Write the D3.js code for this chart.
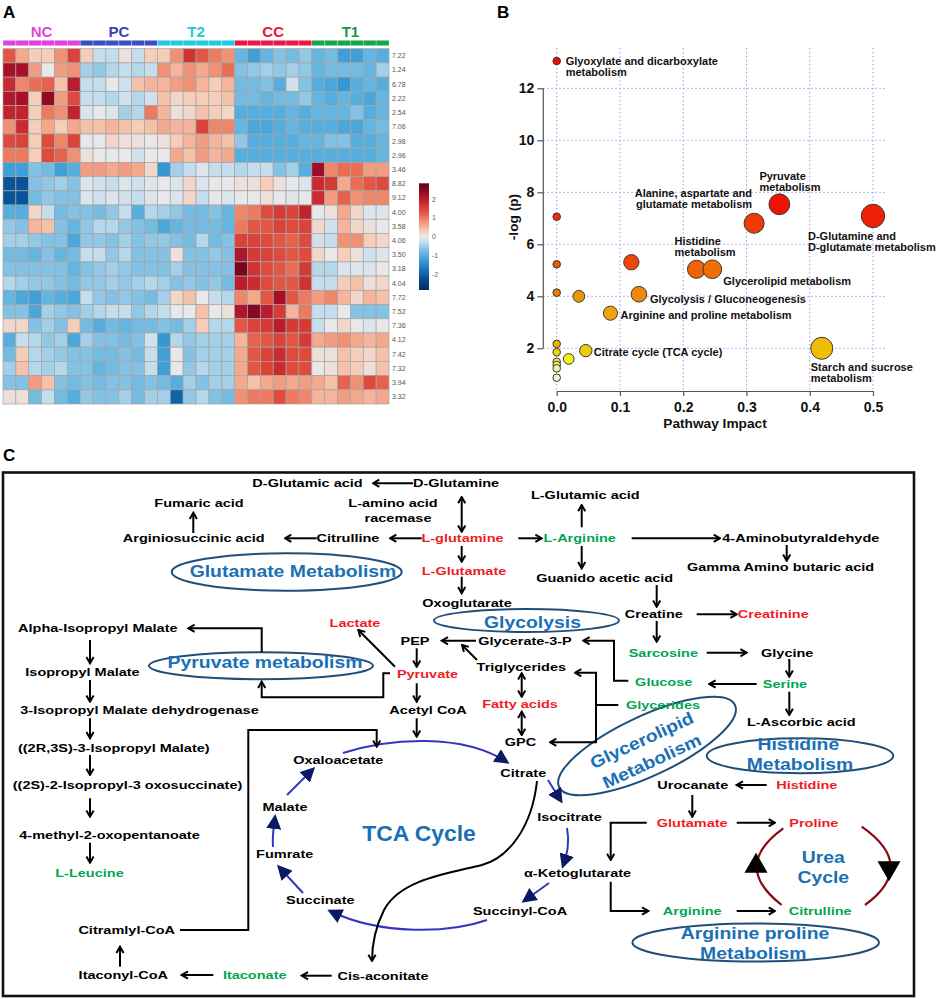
<!DOCTYPE html>
<html>
<head>
<meta charset="utf-8">
<script src="https://cdn.jsdelivr.net/npm/d3@7"></script>
<style>
  body { margin: 0; background: #fff; }
  svg { font-family: "Liberation Sans", Arial, sans-serif; }
</style>
</head>
<body>
<svg id="fig" width="941" height="999"></svg>
<script>
// ---------- panel A data ----------
const groups = ["NC", "PC", "T2", "CC", "T1"];
const samplesPerGroup = 6;
const rowLabels = ["7.22","1.24","6.78","2.22","2.54","7.06","2.98","2.96","3.46","8.82","9.12","4.00","3.58",
                   "4.06","3.50","3.18","4.04","7.72","7.52","7.36","4.12","7.42","7.32","3.94","3.32"];
const colorbarTicks = [2, 1, 0, -1, -2];
// z-scores, one row per bin, columns NC(6) PC(6) T2(6) CC(6) T1(6)
const heatValues = [
  [1.3,0.6,0.3,0.3,0.8,1.5, 0.3,-0.3,-0.3,0.1,-0.3,0.3, 0.3,0.8,1.7,1.3,1.0,0.8, -0.9,-1.2,-0.9,-0.7,-0.8,-0.6, -0.9,-0.8,-1.2,-1.2,-0.9,-1.0],
  [2.2,2.2,0.7,0.0,0.7,0.8, -0.5,-0.6,-0.4,-0.3,-0.4,-0.3, 0.8,0.5,0.8,0.6,0.8,1.1, -0.7,-0.6,-0.5,-0.6,-0.5,-0.6, -0.9,-0.8,-0.8,-0.8,-0.9,-0.5],
  [1.8,0.9,1.1,1.2,0.4,2.0, -0.3,-0.3,0.0,-0.2,0.4,0.5, 0.5,0.7,0.8,0.5,0.3,0.5, -0.8,-0.8,-0.7,-1.0,-0.2,-0.7, -1.0,-1.1,-1.3,-1.0,-0.9,-1.0],
  [2.1,2.2,0.3,2.4,0.7,1.4, -0.3,-0.3,-0.4,-0.2,-0.4,-0.2, 0.4,0.2,0.3,0.3,0.3,0.4, -0.8,-0.8,-0.9,-0.8,-0.8,-0.6, -0.9,-1.0,-0.9,-1.0,-1.1,-0.9],
  [1.9,1.9,0.3,1.0,0.8,1.9, -0.1,0.0,-0.1,-0.5,-0.4,1.0, 0.5,0.1,0.2,0.4,0.3,0.2, -1.0,-1.0,-1.0,-1.0,-0.9,-1.0, -0.9,-0.9,-0.9,-0.7,-1.0,-0.9],
  [0.8,1.8,0.3,0.6,0.3,0.6, 0.4,0.4,0.5,0.4,0.3,0.4, 0.6,0.5,0.5,1.5,0.9,0.9, -0.9,-1.1,-1.1,-1.0,-0.9,-1.0, -1.0,-1.0,-1.1,-1.1,-0.9,-0.8],
  [1.4,1.5,0.3,1.4,0.9,1.5, 0.0,0.0,0.2,0.1,0.1,0.0, 0.1,0.3,0.5,0.7,0.5,0.4, -0.6,-1.0,-1.0,-1.0,-1.0,-0.9, -0.9,-0.7,-0.7,-1.0,-1.0,-0.9],
  [1.0,1.0,0.3,1.4,1.2,0.8, 0.1,0.0,0.0,0.0,-0.2,0.0, 0.0,0.6,0.4,0.7,0.5,0.6, -1.0,-1.0,-1.0,-1.0,-1.0,-1.0, -1.0,-1.0,-1.0,-1.0,-1.0,-0.9],
  [-1.2,-1.2,-0.7,-0.8,-1.2,-1.0, 0.7,0.7,0.6,0.7,0.6,0.2, -1.3,-0.5,-0.3,-0.1,-0.3,-0.3, -0.4,-0.3,-0.3,-0.7,-0.5,-1.0, 2.3,0.9,1.1,1.1,0.7,0.7],
  [-2.2,-2.2,-0.7,-0.6,-0.5,-0.7, -0.1,-0.2,-0.3,-0.1,-0.2,-0.1, 0.0,-0.1,0.2,-0.1,0.0,0.0, 0.1,0.1,0.3,0.1,0.0,-0.1, 1.8,1.6,0.6,1.1,1.3,1.4],
  [-2.2,-2.2,-0.8,-0.6,-0.7,-0.7, -0.1,-0.2,-0.1,-0.2,-0.3,-0.1, 0.0,-0.1,0.2,-0.3,0.0,-0.1, 0.0,0.0,0.1,0.0,-0.1,0.0, 1.8,0.7,1.2,0.8,0.9,0.9],
  [-1.0,-1.0,0.2,-0.3,-0.8,-0.7, -0.7,-0.8,-0.6,-0.3,-1.0,-0.4, -0.5,-0.6,-0.8,-0.8,-0.7,-0.9, 0.9,1.0,1.4,1.6,1.5,1.9, 0.0,0.1,0.6,0.2,-0.1,-0.1],
  [-0.6,-0.7,0.5,0.4,-0.7,-0.9, -0.6,-0.4,-0.4,-0.6,-0.7,-0.8, -1.1,-0.9,-0.8,-0.8,-0.8,-0.9, 1.0,1.3,1.3,1.5,1.4,1.5, 0.2,-0.2,0.5,0.2,0.1,0.0],
  [-0.5,-0.5,-0.6,-0.7,-0.7,-1.1, -0.6,-0.6,-0.7,-0.5,-0.7,-0.6, -0.6,-0.7,-0.8,-0.4,-0.8,-0.7, 1.5,1.5,1.4,1.3,1.2,1.4, -0.2,-0.3,0.8,0.8,0.3,0.2],
  [-0.8,-0.8,-0.9,-0.7,-0.9,-0.8, -0.3,-0.3,-0.6,-0.4,-0.7,-0.7, -0.7,0.1,-0.7,-0.7,-0.6,-0.7, 2.1,1.6,1.5,1.4,1.3,1.4, 0.2,0.0,0.3,0.1,-0.2,-0.1],
  [-0.7,-0.7,-0.7,-0.7,-0.7,-0.9, -0.7,-0.6,-0.5,-0.6,-0.7,-0.7, -0.7,-0.5,-0.7,-0.7,-0.7,-0.7, 2.6,1.7,1.4,1.3,1.1,1.6, -0.4,-0.4,-0.1,-0.1,-0.1,0.0],
  [-0.4,-0.5,-0.6,-0.6,-0.7,-0.8, -0.6,-0.6,-0.5,-0.6,-0.5,-0.4, -0.5,-0.7,-0.6,-0.7,-0.6,-0.8, 2.0,1.8,1.4,1.3,1.3,1.7, -0.3,-0.3,0.3,0.4,0.1,0.2],
  [-0.9,-1.1,-1.2,-0.9,-1.0,-1.1, -0.3,-0.6,-0.7,-0.6,-0.7,-0.8, -0.5,0.2,0.4,0.0,-0.3,-0.4, 0.9,0.6,1.3,2.2,1.3,1.0, 0.7,0.9,0.5,0.2,0.5,0.4],
  [-0.7,-0.7,-1.1,-0.5,-0.6,-0.7, -0.5,-0.4,-0.3,-0.3,-0.6,-0.4, -0.3,0.0,0.0,0.4,0.0,0.1, 2.1,2.5,2.0,1.6,0.5,1.0, -0.3,-0.3,0.0,-0.7,-0.7,-0.7],
  [0.2,0.2,-0.7,-0.5,-0.7,0.3, -0.8,-1.0,-0.8,-0.9,-0.8,-0.8, -0.7,-0.8,-0.5,0.3,-0.4,-0.4, 1.3,1.5,1.6,2.0,1.6,1.6, -0.3,0.0,0.2,0.0,-0.1,0.0],
  [-1.0,-0.3,-0.4,-0.6,-0.5,-1.1, -0.5,-0.7,-0.7,-0.8,-0.7,-0.2, -1.3,-0.4,-0.6,-0.5,-0.5,-0.5, 0.5,1.2,1.3,1.5,1.3,1.6, 0.6,0.7,0.8,0.6,0.5,0.6],
  [-0.8,0.3,-0.4,-0.5,-0.6,-0.7, -0.7,-0.8,-0.8,-0.7,-0.8,-0.3, -1.2,0.0,-0.7,-0.5,-0.5,-0.5, 0.6,1.3,1.5,1.8,1.4,1.4, 0.1,0.1,0.4,0.3,0.2,0.4],
  [-0.5,0.4,-0.4,-0.5,-0.4,-0.7, -0.7,-0.9,-0.8,-0.7,-0.7,-0.3, -1.2,0.0,-0.6,-0.4,-0.5,-0.5, 0.6,1.3,1.5,1.8,1.4,1.4, 0.0,0.1,0.4,0.3,0.1,0.4],
  [-0.7,-0.7,0.7,0.4,-0.7,-0.8, -0.7,-0.8,-0.7,-0.7,-0.8,-0.7, -0.8,-1.0,-0.5,-0.7,-0.5,-0.5, 0.6,0.4,0.6,0.7,0.6,0.7, 0.6,0.4,1.2,0.8,1.4,1.2],
  [0.1,0.1,-0.8,-0.3,-0.8,-1.0, -0.6,-0.7,-0.7,-0.5,-0.8,-0.5, -0.5,-2.0,-0.6,-0.4,-0.7,-0.8, 0.8,1.0,1.0,1.4,1.0,0.9, 0.5,0.5,0.7,0.6,0.5,0.6]
];

// ---------- panel B data ----------
const pathwayNames = [
  "Glyoxylate and dicarboxylate|metabolism", "Pyruvate|metabolism", "D-Glutamine and|D-glutamate metabolism", null,
  "Alanine, aspartate and|glutamate metabolism", "Histidine|metabolism", "Glycerolipid metabolism", null, null, null,
  "Glycolysis / Gluconeogenesis", null, "Arginine and proline metabolism", null, "Starch and sucrose|metabolism",
  "Citrate cycle (TCA cycle)", null, null, null, null, null, null
];
const pathwayImpact = [0, 0.352, 0.5, 0, 0.312, 0.221, 0.246, 0.118, 0, 0, 0.13, 0.035, 0.085, 0, 0.419, 0.046, 0, 0.019, 0, 0, 0, 0];
const pathwayLogP   = [13.05, 7.54, 7.09, 7.06, 6.81, 5.04, 5.04, 5.31, 5.23, 4.14, 4.08, 4.0, 3.35, 2.17, 2.0, 1.91, 1.85, 1.59, 1.48, 1.36, 1.23, 0.87];
const impactTicks = [0, 0.1, 0.2, 0.3, 0.4, 0.5];
const logPTicks = [2, 4, 6, 8, 10, 12];

// ---------- styles ----------
const groupColors = {NC: "#e33fe0", PC: "#3a4fc4", T2: "#1fcbe2", CC: "#ea1744", T1: "#14a64a"};
const groupText   = {NC: "#d946d6", PC: "#4040c0", T2: "#22c8d8", CC: "#ee1236", T1: "#14994a"};
// label offsets (px) from each labelled bubble
const labelOffset = {
  0: [9, 0, "start"], 1: [-20, -28, "start"], 2: [-65, 20, "start"], 4: [-2, -30, "end"],
  5: [-22, -28, "start"], 6: [11, 12, "start"], 10: [11, 4.5, "start"], 12: [10, 2, "start"],
  14: [-11, 18.5, "start"], 15: [8, 1.5, "start"]
};

const svg = d3.select("#fig");
const defs = svg.append("defs");

// ================= PANEL A =================
const A = svg.append("g");
A.append("text").attr("x", 3).attr("y", 17.5).attr("font-size", 17).attr("font-weight", "bold").text("A");

const nCols = groups.length * samplesPerGroup;
const sampleGroup = d3.range(nCols).map(i => groups[Math.floor(i / samplesPerGroup)]);
const hx = d3.scaleBand().domain(d3.range(nCols)).range([3, 389]);
const hy = d3.scaleBand().domain(rowLabels).range([48.7, 404]);

const heatColor = d3.scaleLinear()
  .domain([-2.85, -2.2, -1.8, -1.3, -1.0, -0.6, -0.3, 0, 0.3, 0.6, 1.0, 1.4, 1.8, 2.2, 2.85])
  .range(["#032a5c", "#0a529a", "#1872b8", "#3698d2", "#55aedd", "#92c8e6", "#c4deee", "#e8e8ea",
          "#f6cdb8", "#f4a88c", "#ec7a5e", "#de4b3c", "#ca2a30", "#a8102a", "#5c0016"])
  .clamp(true);

// group annotation bar
A.selectAll("rect.grp").data(d3.range(nCols)).join("rect")
  .attr("x", i => hx(i)).attr("y", 40.3).attr("width", hx.bandwidth()).attr("height", 5.4)
  .attr("fill", i => groupColors[sampleGroup[i]])
  .attr("stroke", "rgba(255,255,255,0.45)").attr("stroke-width", 0.6);
A.selectAll("text.grp").data(groups).join("text")
  .attr("x", (g, k) => hx(k * samplesPerGroup) + hx.bandwidth() * samplesPerGroup / 2)
  .attr("y", 36.7).attr("text-anchor", "middle")
  .attr("font-size", 15).attr("font-weight", "bold")
  .attr("fill", g => groupText[g]).text(g => g);

// cells
const cells = [];
heatValues.forEach((row, r) => row.forEach((v, c) => cells.push({r, c, v})));
A.selectAll("rect.cell").data(cells).join("rect")
  .attr("x", d => hx(d.c)).attr("y", d => hy(rowLabels[d.r]))
  .attr("width", hx.bandwidth()).attr("height", hy.bandwidth())
  .attr("fill", d => heatColor(d.v))
  .attr("stroke", "#a4a4a4").attr("stroke-width", 0.7);

A.selectAll("text.row").data(rowLabels).join("text")
  .attr("x", 392).attr("y", d => hy(d) + hy.bandwidth() / 2).attr("dy", "0.35em")
  .attr("font-size", 7).attr("fill", "#555").text(d => d);

// colour key
const cbScale = d3.scaleLinear().domain([-2.85, 2.85]).range([290, 183.3]);
const grad = defs.append("linearGradient").attr("id", "cbgrad")
  .attr("x1", 0).attr("y1", 1).attr("x2", 0).attr("y2", 0);
d3.range(0, 1.0001, 0.05).forEach(t => {
  grad.append("stop").attr("offset", t).attr("stop-color", heatColor(-2.85 + 5.7 * t));
});
A.append("rect").attr("x", 419).attr("y", 183.3).attr("width", 10).attr("height", 106.7).attr("fill", "url(#cbgrad)");
A.selectAll("text.cb").data(colorbarTicks).join("text")
  .attr("x", 432).attr("y", d => cbScale(d)).attr("dy", "0.35em")
  .attr("font-size", 7).attr("fill", "#666").text(d => d);

// ================= PANEL B =================
const B = svg.append("g");
B.append("text").attr("x", 497).attr("y", 17.5).attr("font-size", 17).attr("font-weight", "bold").text("B");

const bx = d3.scaleLinear().domain([0, 0.5]).range([556.7, 873]);
const by = d3.scaleLinear().domain([0, 12]).range([400.3, 88.3]);
const br = d3.scaleSqrt().domain([0, 0.5]).range([3.8, 11.7]);
const axisY0 = 391, axisX0 = 543.3;

// grid
B.selectAll("line.vg").data(impactTicks).join("line")
  .attr("x1", d => bx(d)).attr("x2", d => bx(d)).attr("y1", 48).attr("y2", axisY0)
  .attr("stroke", "#9a9af0").attr("stroke-width", 1).attr("stroke-dasharray", "1.5,2.5");
B.selectAll("line.hg").data(logPTicks).join("line")
  .attr("x1", axisX0).attr("x2", 887).attr("y1", d => by(d)).attr("y2", d => by(d))
  .attr("stroke", "#9a9af0").attr("stroke-width", 1).attr("stroke-dasharray", "1.5,2.5");

// axes
const xAxis = B.append("g").attr("transform", `translate(0,${axisY0})`)
  .call(d3.axisBottom(bx).tickValues(impactTicks).tickFormat(d3.format(".1f")).tickSize(5).tickSizeOuter(0));
const yAxis = B.append("g").attr("transform", `translate(${axisX0},0)`)
  .call(d3.axisLeft(by).tickValues(logPTicks).tickSize(6).tickSizeOuter(0));
yAxis.select(".domain").remove();
yAxis.append("line").attr("x1", 0).attr("x2", 0).attr("y1", by(12)).attr("y2", by(2))
  .attr("stroke", "#555").attr("stroke-width", 1.2);
[xAxis, yAxis].forEach(a => {
  a.selectAll(".domain, .tick line").attr("stroke", "#555").attr("stroke-width", 1.2);
  a.selectAll(".tick text").attr("font-size", 14).attr("font-weight", "bold")
    .attr("fill", "#111").attr("font-family", "Liberation Sans, Arial, sans-serif");
});
xAxis.selectAll(".tick text").attr("dy", "0.95em");

B.append("text").attr("x", 715).attr("y", 427.5).attr("text-anchor", "middle")
  .attr("font-size", 13.7).attr("font-weight", "bold").attr("fill", "#111").text("Pathway Impact");
B.append("text").attr("transform", "translate(518,217) rotate(-90)").attr("text-anchor", "middle")
  .attr("font-size", 13.7).attr("font-weight", "bold").attr("fill", "#111").text("-log (p)");

// heat.colors-like fill by rank of p
function heatRank(k, n) {
  const j = Math.floor(n / 4), i = n - j;
  if (k < i) return d3.hsl(54 * k / (i - 1), 0.95, 0.48).toString();
  const s = (1 - 1 / (2 * j)) - (k - i) * ((1 - 1 / j) / (j - 1));
  return d3.rgb(245, 240, 240 * (1 - s)).toString();
}
const pts = pathwayLogP.map((p, i) => ({i, p, imp: pathwayImpact[i], name: pathwayNames[i]}));
const rank = pts.slice().sort((a, b) => b.p - a.p);
rank.forEach((d, k) => d.fill = heatRank(k, pts.length));
B.selectAll("circle.pw").data(pts).join("circle")
  .attr("cx", d => bx(d.imp)).attr("cy", d => by(d.p)).attr("r", d => br(d.imp))
  .attr("fill", d => d.fill).attr("stroke", "#3a3a3a").attr("stroke-width", 1);

pts.filter(d => d.name).forEach(d => {
  const [dx, dy, anchor] = labelOffset[d.i];
  const t = B.append("text").attr("font-size", 11).attr("font-weight", "bold").attr("fill", "#111")
    .attr("text-anchor", anchor);
  d.name.split("|").forEach((line, li) => {
    t.append("tspan").attr("x", bx(d.imp) + dx).attr("y", by(d.p) + dy + li * 11).attr("dy", "0.35em").text(line);
  });
});

// ================= PANEL C =================
const C = svg.append("g");
C.append("text").attr("x", 3).attr("y", 460.7).attr("font-size", 17).attr("font-weight", "bold").text("C");
C.append("rect").attr("x", 3).attr("y", 472.5).attr("width", 911).attr("height", 523.5)
  .attr("fill", "none").attr("stroke", "#111").attr("stroke-width", 2.6);

defs.append("marker").attr("id", "head").attr("viewBox", "0 0 10 10").attr("refX", 8.5).attr("refY", 5)
  .attr("markerWidth", 9).attr("markerHeight", 10).attr("markerUnits", "userSpaceOnUse")
  .attr("orient", "auto-start-reverse")
  .append("path").attr("d", "M1.5,1 L8.5,5 L1.5,9").attr("fill", "none").attr("stroke", "#000").attr("stroke-width", 2.2);
defs.append("marker").attr("id", "tri").attr("viewBox", "0 0 10 10").attr("refX", 8).attr("refY", 5)
  .attr("markerWidth", 15).attr("markerHeight", 15).attr("markerUnits", "userSpaceOnUse").attr("orient", "auto")
  .append("path").attr("d", "M0,0 L10,5 L0,10 Z").attr("fill", "#0b1a62");

const K = "#000", R = "#ee1c25", G = "#00a651", BL = "#1a70b5";
const nodes = [
  ["D-Glutamic acid", 307.5, 483.3, K], ["D-Glutamine", 456, 483.3, K], ["Fumaric acid", 199, 502.7, K],
  ["L-amino acid", 393, 502.7, K], ["racemase", 398, 517.7, K], ["L-Glutamic acid", 585.3, 495, K],
  ["Arginiosuccinic acid", 193.7, 538.3, K], ["Citrulline", 348, 538.3, K], ["L-glutamine", 462.5, 538.3, R],
  ["L-Arginine", 579.7, 538.3, G], ["4-Aminobutyraldehyde", 800.8, 538.3, K], ["Gamma Amino butaric acid", 780.5, 567.3, K],
  ["L-Glutamate", 464, 571, R], ["Guanido acetic acid", 604.7, 578.3, K], ["Oxoglutarate", 467, 602.7, K],
  ["Creatine", 653.8, 614.3, K], ["Creatinine", 773.3, 614.3, R], ["Lactate", 355, 623.3, R],
  ["Alpha-Isopropyl Malate", 97.8, 628.3, K], ["PEP", 415, 640.7, K], ["Glycerate-3-P", 525, 640.7, K],
  ["Sarcosine", 663.3, 652.7, G], ["Glycine", 787.2, 652.7, K], ["Triglycerides", 521.3, 667.3, K],
  ["Isopropyl Malate", 82.5, 671.7, K], ["Pyruvate", 427.5, 674, R], ["Glucose", 663.7, 682.3, G],
  ["Serine", 785, 684, G], ["Fatty acids", 520, 704.3, R], ["Glycerides", 663, 705, G],
  ["3-Isopropyl Malate dehydrogenase", 139.5, 710, K], ["Acetyl CoA", 428, 710, K], ["L-Ascorbic acid", 801.3, 721.7, K],
  ["GPC", 520.5, 741.7, K], ["((2R,3S)-3-Isopropyl Malate)", 113.8, 747.7, K], ["Oxaloacetate", 338.3, 760, K],
  ["Citrate", 523.3, 772.7, K], ["((2S)-2-Isopropyl-3 oxosuccinate)", 127.5, 785, K], ["Urocanate", 692.8, 785, K],
  ["Histidine", 806.8, 785, R], ["Malate", 285, 806.7, K], ["Isocitrate", 569.5, 816.7, K],
  ["Glutamate", 692.2, 822.7, R], ["Proline", 813.8, 822.7, R], ["4-methyl-2-oxopentanoate", 109.5, 835, K],
  ["Fumrate", 284.7, 854, K], ["L-Leucine", 89.5, 873.3, G], ["\u03b1-Ketoglutarate", 577.5, 873.3, K],
  ["Succinate", 320.3, 900, K], ["Succinyl-CoA", 520, 911, K], ["Arginine", 692.2, 911, G],
  ["Citrulline", 820.2, 911, G], ["Citramlyl-CoA", 126.7, 930, K], ["Itaconyl-CoA", 123.3, 975, K],
  ["Itaconate", 254.7, 975, G], ["Cis-aconitate", 383, 975.7, K]
];

const ellipses = [
  [286.7, 572, 115, 18.7, 0], [526.5, 620.5, 92.5, 11.5, 0], [261, 665.8, 112, 13.5, 0],
  [647, 746, 97, 30, -25], [800, 755.8, 93.3, 17.5, 0], [755.7, 942.5, 123.3, 19, 0]
];
const zones = [
  ["Glutamate Metabolism", 293, 571, 0], ["Glycolysis", 532.5, 621.7, 0], ["Pyruvate metabolism", 265, 661.7, 0],
  ["Glycerolipid", 641.7, 740, -25], ["Metabolism", 651.7, 761, -25], ["Histidine", 798.3, 744.3, 0],
  ["Metabolism", 800, 764, 0], ["Urea", 823.3, 857.3, 0], ["Cycle", 823.3, 877.3, 0],
  ["Arginine proline", 755, 933.3, 0], ["Metabolism", 753.3, 953.3, 0]
];

const arrows = [
  ["M413,483.3 H373", 1], ["M461.7,497 V531.7", 2], ["M193.3,533 V512.7", 1], ["M316.7,538.3 H285", 1],
  ["M421.7,538.3 H390", 1], ["M518.3,538.3 H541.7", 1], ["M581.7,527.3 V505", 1], ["M631.7,538.3 H720", 1],
  ["M786.7,545 V560.7", 1], ["M581.7,546 V568.3", 1], ["M461.7,546 V561.7", 1], ["M461.7,576.7 V593.3", 1],
  ["M656.7,585 V606.7", 1], ["M696.7,614.3 H736.7", 1], ["M656.7,621 V641.7", 1], ["M706.7,652.7 H746.7", 1],
  ["M789.3,659 V676.7", 1], ["M756.7,684 H709.3", 1], ["M789.3,691.7 V715", 1],
  ["M628.3,680.7 H614 V640.7 H583.3", 1], ["M618.3,705 H596 V672.7 H575", 1], ["M596,705 V742.3 H550", 1],
  ["M521.7,673.3 V696.7", 2], ["M521.7,711.7 V735", 2], ["M476,640.7 H441.7", 1], ["M477,660 L462,645", 1],
  ["M416.7,648.3 V666.7", 1], ["M395,666.7 L358.3,630", 1], ["M390,673.3 H383.3 V697.3 H261.7 V681.7", 1],
  ["M261.7,652 V628.3 H188.3", 1], ["M416.7,683.3 V701.7", 1], ["M416.7,718.3 V736.7", 1],
  ["M90,640 V663.3", 1], ["M90,680 V701.7", 1], ["M90,718.3 V738.3", 1], ["M90,755 V775", 1],
  ["M90,798.3 V816.7", 1], ["M90,842.7 V862.7", 1], ["M180,930 H248.3 V730 H376.7 V746.7", 1],
  ["M120,966.7 V946.7", 1], ["M331.7,975.7 H301.7", 1], ["M213.3,975 H181.7", 1],
  ["M766.7,785 H736.7", 1], ["M692.3,795 V816.7", 1], ["M736.7,822.7 H775", 1],
  ["M646.7,822.7 H610.7 V860", 1], ["M610.7,881.7 V911 H648.3", 1], ["M736.7,911 H775", 1],
  ["M537,781 C532,828 508,858 482,865 C445,874 400,880 384,910 C375,928 372,945 372,961", 1]
];
const tcaArcs = [
  "M343,753 C390,738 462,733 507,762", "M548,780 L561,801", "M567,828 C570,843 567,854 563,866",
  "M549,883 L524,901", "M487,920 C450,933 382,936 330,911", "M303,893 L279,867",
  "M273,847 C272,836 274,826 275,817", "M287,795 L313,769"
];
const ureaArcs = ["M783.3,828.3 Q731,866 781.7,905", "M861.7,826.7 Q918,866 865,905"];

// ellipses
C.selectAll("ellipse").data(ellipses).join("ellipse")
  .attr("transform", d => `translate(${d[0]},${d[1]}) rotate(${d[4]})`)
  .attr("rx", d => d[2]).attr("ry", d => d[3])
  .attr("fill", "none").attr("stroke", "#1f4e79").attr("stroke-width", 2);

// TCA cycle
C.selectAll("path.tca").data(tcaArcs).join("path")
  .attr("d", d => d).attr("fill", "none").attr("stroke", "#3434c4").attr("stroke-width", 2)
  .attr("marker-end", "url(#tri)");
C.append("text").attr("transform", "translate(419,833.3) scale(1.04,1)").attr("text-anchor", "middle")
  .attr("dy", "0.35em").attr("font-size", 22).attr("font-weight", "bold").attr("fill", BL).text("TCA Cycle");

// urea cycle
C.selectAll("path.urea").data(ureaArcs).join("path")
  .attr("d", d => d).attr("fill", "none").attr("stroke", "#8c0a10").attr("stroke-width", 2.2);
C.append("path").attr("d", d3.symbol(d3.symbolTriangle, 230)())
  .attr("transform", "translate(756,866)").attr("fill", "#000");
C.append("path").attr("d", d3.symbol(d3.symbolTriangle, 230)())
  .attr("transform", "translate(889,868) rotate(180)").attr("fill", "#000");

// black arrows
C.selectAll("path.arr").data(arrows).join("path")
  .attr("d", d => d[0]).attr("fill", "none").attr("stroke", "#000").attr("stroke-width", 2)
  .attr("marker-end", "url(#head)")
  .attr("marker-start", d => d[1] === 2 ? "url(#head)" : null);

// metabolite labels
C.selectAll("text.node").data(nodes).join("text")
  .attr("transform", d => `translate(${d[1]},${d[2]}) scale(1.25,1)`)
  .attr("text-anchor", "middle").attr("dy", "0.36em")
  .attr("font-size", 11.6).attr("font-weight", "bold").attr("fill", d => d[3])
  .text(d => d[0]);

// pathway zone labels
C.selectAll("text.zone").data(zones).join("text")
  .attr("transform", d => `translate(${d[1]},${d[2]}) rotate(${d[3]}) scale(1.14,1)`)
  .attr("text-anchor", "middle").attr("dy", "0.36em")
  .attr("font-size", 17).attr("font-weight", "bold").attr("fill", BL)
  .text(d => d[0]);
</script>
</body>
</html>
